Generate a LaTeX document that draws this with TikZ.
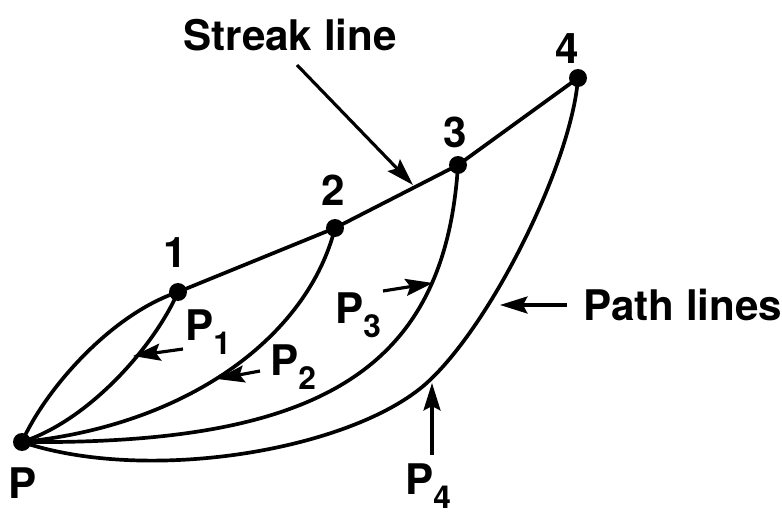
\documentclass[tikz,border=0pt]{standalone}
\usepackage{fontspec}
\setmainfont{TeX Gyre Heros}
\usepackage{tikz}
\usetikzlibrary{arrows.meta}
\newcommand{\Psub}[1]{P\raisebox{-8.5pt}{\fontsize{18}{18}\selectfont #1}}
\tikzset{
	dot/.style      ={circle, fill=black, inner sep=0pt, minimum size=0.36cm},
	lbl/.style      ={font=\fontsize{24}{28}\selectfont\bfseries, inner sep=0pt},
	curveline/.style={line width=2.1pt, line join=round},
	% label pointers
	pointer/.style  ={-{Stealth[length=5.5mm, width=3.4mm, inset=0.9mm]}, line width=1.8pt},
}

\begin{document}
\begin{tikzpicture}[x=0.02cm, y=-0.02cm]
	\useasboundingbox (0,0) rectangle (782,514);
	% particle P and the points 1..4
	\node[dot] (p0) at (22,442) {};
	\node[dot] (p1) at (178,292) {};
	\node[dot] (p2) at (335,228) {};
	\node[dot] (p3) at (458,165) {};
	\node[dot] (p4) at (578,78) {};
	\node[lbl, anchor=base west] (n0) at (8,498) {P};
	\node[lbl, anchor=base] (n1) at (175,267) {1};
	\node[lbl, anchor=base] (n2) at (333,205) {2};
	\node[lbl, anchor=base] (n3) at (455,147) {3};
	\node[lbl, anchor=base] (n4) at (567,63) {4};
	% streak line
	\draw[curveline] (p0.center) .. controls (45,390) and (110,315) .. (p1.center)
		-- (p2.center) -- (p3.center) -- (p4.center);
	% path lines
	\draw[curveline] (p1.center) .. controls (155,345) and (90,420) .. (p0.center);
	\draw[curveline] (p2.center) .. controls (308,335) and (190,425) .. (p0.center);
	\draw[curveline] (p3.center) .. controls (445,370) and (320,445) .. (p0.center);
	\draw[curveline] (p4.center) .. controls (572,160) and (495,318) .. (430,380)
		.. controls (358,449) and (150,485) .. (p0.center);
	% texts
	\node[lbl, anchor=base] (streak) at (290,50) {Streak line};
	\node[lbl, anchor=base west] (paths) at (583,320) {Path lines};
	\node[lbl, anchor=base west] (lP1) at (185,340) {\Psub{1}};
	\node[lbl, anchor=base west] (lP2) at (270,375) {\Psub{2}};
	\node[lbl, anchor=base west] (lP3) at (335,323) {\Psub{3}};
	\node[lbl, anchor=base west] (lP4) at (405,494) {\Psub{4}};
	% pointers
	\coordinate (sTip) at (413,185);
	\coordinate (pTip) at (500,305);
	\coordinate (tip1) at (133,356);
	\coordinate (tip2) at (217,379);
	\coordinate (tip3) at (433,283);
	\coordinate (tip4) at (432,383);
	\coordinate (sTail) at (297,65);
	\coordinate (pTail) at (567,305);
	\coordinate (tail1) at (183,349);
	\coordinate (tail2) at (260,371);
	\coordinate (tail3) at (383,291);
	\coordinate (tail4) at (432,455);
	\draw[pointer] (sTail) -- (sTip);
	\draw[pointer] (pTail) -- (pTip);
	\draw[pointer] (tail1) -- (tip1);
	\draw[pointer] (tail2) -- (tip2);
	\draw[pointer] (tail3) -- (tip3);
	\draw[pointer] (tail4) -- (tip4);
\end{tikzpicture}
\end{document}
